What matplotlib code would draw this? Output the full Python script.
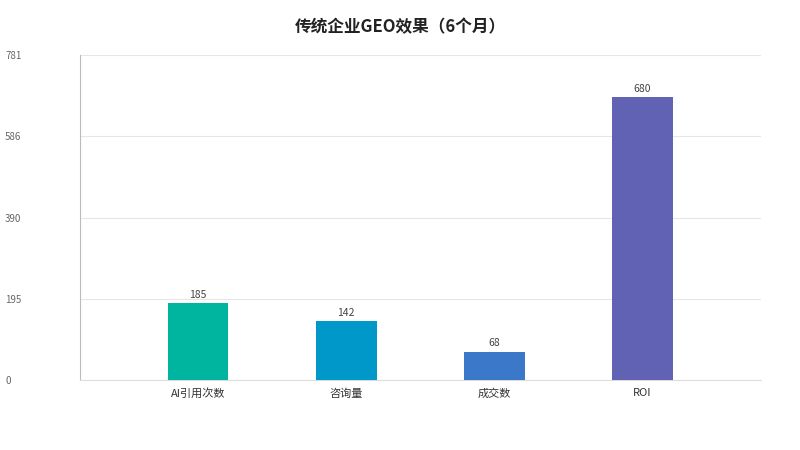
import matplotlib
matplotlib.use("Agg")
import matplotlib.pyplot as plt

plt.rcParams['font.family'] = ['Noto Sans CJK SC', 'DejaVu Sans']

categories = ["AI引用次数", "咨询量", "成交数", "ROI"]
values = [185, 142, 68, 680]
colors = ["#00b5a0", "#0097c9", "#3b78c9", "#6262b4"]
yticks = [0, 195, 390, 586, 781]

fig = plt.figure(figsize=(8, 4.5), dpi=100)
ax = fig.add_axes([80/800, 1-380/450, 681/800, 325/450])
x = list(range(len(categories)))
bars = ax.bar(x, values, width=0.41, color=colors, zorder=3)
for xi, v in zip(x, values):
    ax.text(xi, v + 8, str(v), ha='center', va='bottom', fontsize=7.5, color='#444444')
ax.set_xlim(-0.797, 3.80)
ax.set_ylim(0, 781)
ax.set_yticks(yticks)
ax.set_yticklabels([str(t) for t in yticks], ha='left', fontsize=7, color='#666666')
ax.tick_params(axis='y', length=0, pad=54)
ax.set_xticks(x)
ax.set_xticklabels(categories, fontsize=8, color='#333333')
ax.tick_params(axis='x', length=0, pad=6)
ax.grid(axis='y', color='#e6e6e6', linewidth=0.8, zorder=0)
for s in ['top', 'right']:
    ax.spines[s].set_visible(False)
ax.spines['left'].set_color('#bbbbbb')
ax.spines['bottom'].set_color('#dddddd')
fig.text(0.5, 1-27/450, "传统企业GEO效果（6个月）", ha='center', va='center',
         fontsize=12, fontweight='bold', color='#222222')
fig.savefig("out.png", dpi=100)
